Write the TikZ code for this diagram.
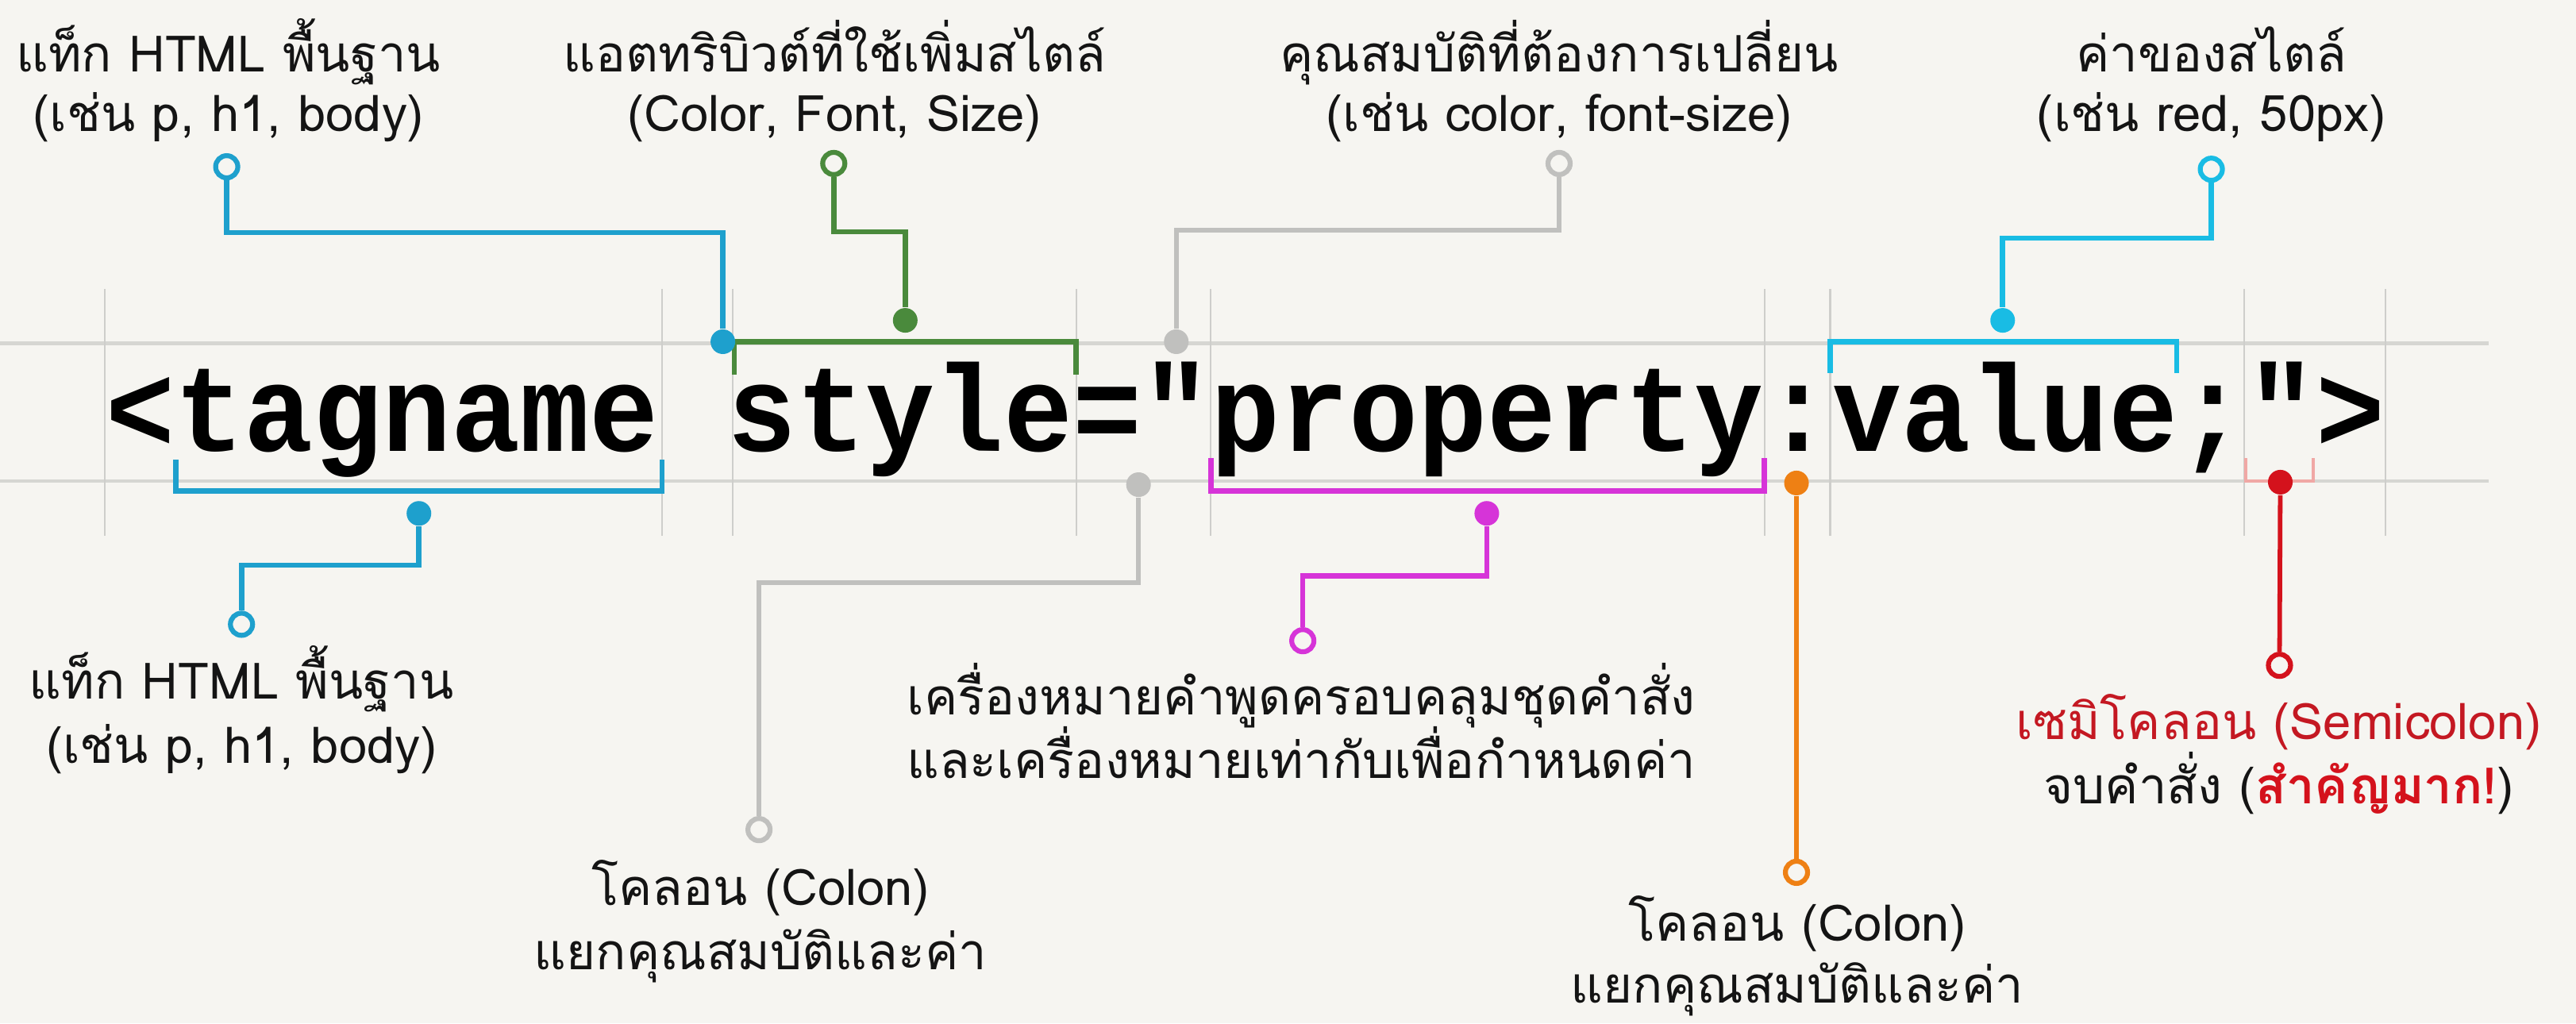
\documentclass[tikz,border=0pt]{standalone}
\usepackage{fontspec}
\newfontfamily\thai[Script=Thai]{Loma}
\font\codefont="Liberation Mono/B" at 35.04pt
\definecolor{bg}{RGB}{246,245,241}
\definecolor{cyanA}{RGB}{30,160,205}
\definecolor{cyanB}{RGB}{25,188,228}
\definecolor{greenA}{RGB}{74,138,60}
\definecolor{grayA}{RGB}{192,192,190}
\definecolor{magA}{RGB}{214,52,216}
\definecolor{orangeA}{RGB}{238,128,20}
\definecolor{redA}{RGB}{212,18,28}
\definecolor{redPale}{RGB}{240,168,165}
\definecolor{guideC}{RGB}{214,214,210}
\definecolor{vguideC}{RGB}{206,206,203}
\definecolor{labelRed}{RGB}{196,24,34}
\begin{document}
\begin{tikzpicture}[x=0.5pt,y=-0.5pt,
  lbl/.style={font=\thai\fontsize{15.3}{18}\selectfont, text=black!92, inner sep=0pt, anchor=base},
  hguide/.style={draw=guideC, line width=1pt},
  vguide/.style={draw=vguideC, line width=0.5pt},
  conn/.style={line width=1.6pt},
  brk/.style={line width=1.6pt},
  hole/.style={circle, draw=#1, fill=bg, line width=1.5pt, minimum size=6.75pt, inner sep=0pt},
  dot/.style={circle, fill=#1, minimum size=7.5pt, inner sep=0pt}]
\fill[bg] (0,0) rectangle (1568,623);
\useasboundingbox (0,0) rectangle (1568,623);
% guide lines
\draw[hguide] (0,209) -- (1515,209);
\draw[hguide] (0,293) -- (1515,293);
\foreach \gx in {64,403,446,655,737,1074,1114,1366,1452}
  \draw[vguide] (\gx,176) -- (\gx,326);
% code
\node[inner sep=0pt, anchor=base west] (code) at (64,274.5) {\scalebox{1}[1.07]{\codefont <tagname style="property:value;">}};
% brackets
\draw[brk, cyanA] (107,280) -- (107,299) -- (403,299) -- (403,280);
\draw[brk, greenA] (447,228) -- (447,208) -- (655,208) -- (655,228);
\draw[brk, magA] (737,279) -- (737,299) -- (1074,299) -- (1074,279);
\draw[brk, cyanB] (1114,227) -- (1114,208) -- (1325,208) -- (1325,227);
\draw[line width=1pt, redPale] (1367,279) -- (1367,293) -- (1408,293) -- (1408,279);
% dots
\node[dot=cyanA] (d1) at (440,208) {};
\node[dot=greenA] (d2) at (551,195) {};
\node[dot=grayA] (d3) at (716,208) {};
\node[dot=cyanB] (d4) at (1219,195) {};
\node[dot=cyanA] (d5) at (255,312.5) {};
\node[dot=grayA] (d6) at (693,295) {};
\node[dot=magA] (d7) at (905,312.5) {};
\node[dot=orangeA] (d8) at (1093.5,294) {};
\node[dot=redA] (d9) at (1388,293.5) {};
% open circles
\node[hole=cyanA] (c1) at (138,101.5) {};
\node[hole=greenA] (c2) at (507.5,99.5) {};
\node[hole=grayA] (c3) at (949,99.5) {};
\node[hole=cyanB] (c4) at (1346,103) {};
\node[hole=cyanA] (c5) at (147,380) {};
\node[hole=grayA] (c6) at (462,505) {};
\node[hole=magA] (c7) at (793,390) {};
\node[hole=orangeA] (c8) at (1093.5,531) {};
\node[hole=redA] (c9) at (1387.5,405) {};
% elbow levels
\coordinate (e1) at (0,141.5);
\coordinate (e2) at (0,141);
\coordinate (e3) at (0,140);
\coordinate (e4) at (0,145);
\coordinate (e5) at (0,344);
\coordinate (e6) at (0,354.5);
\coordinate (e7) at (0,350.5);
% connectors
\draw[conn, cyanA] (c1) -- (c1 |- e1) -| (d1);
\draw[conn, greenA] (c2) -- (c2 |- e2) -| (d2);
\draw[conn, grayA, line width=1.4pt] (c3) -- (c3 |- e3) -| (d3);
\draw[conn, cyanB] (c4) -- (c4 |- e4) -| (d4);
\draw[conn, cyanA] (d5) -- (d5 |- e5) -| (c5);
\draw[conn, grayA, line width=1.4pt] (d6) -- (d6 |- e6) -| (c6);
\draw[conn, magA] (d7) -- (d7 |- e7) -| (c7);
\draw[conn, orangeA, line width=1.3pt] (d8) -- (c8);
\draw[conn, redA, line width=1.4pt] (d9) -- (c9);
% labels top
\node[lbl] (l1a) at (139,43.5) {แท็ก HTML พื้นฐาน};
\node[lbl] (l1b) at (139,80) {(เช่น p, h1, body)};
\node[lbl] (l2a) at (508,43.5) {แอตทริบิวต์ที่ใช้เพิ่มสไตล์};
\node[lbl] (l2b) at (508,80) {(Color, Font, Size)};
\node[lbl] (l3a) at (949,43.5) {คุณสมบัติที่ต้องการเปลี่ยน};
\node[lbl] (l3b) at (949,80) {(เช่น color, font-size)};
\node[lbl] (l4a) at (1346,43.5) {ค่าของสไตล์};
\node[lbl] (l4b) at (1346,80) {(เช่น red, 50px)};
% labels bottom
\node[lbl] (l5a) at (147,425.5) {แท็ก HTML พื้นฐาน};
\node[lbl] (l5b) at (147,464.5) {(เช่น p, h1, body)};
\node[lbl] (l6a) at (792,435) {เครื่องหมายคำพูดครอบคลุมชุดคำสั่ง};
\node[lbl] (l6b) at (792,474) {และเครื่องหมายเท่ากับเพื่อกำหนดค่า};
\node[lbl] (l7a) at (463,551) {โคลอน (Colon)};
\node[lbl] (l7b) at (463,590) {แยกคุณสมบัติและค่า};
\node[lbl] (l8a) at (1094,573) {โคลอน (Colon)};
\node[lbl] (l8b) at (1094,610.5) {แยกคุณสมบัติและค่า};
\node[lbl, text=labelRed] (l9a) at (1387,450) {เซมิโคลอน (Semicolon)};
\node[lbl] (l9b) at (1387,489) {จบคำสั่ง ({\bfseries\color{redA}สำคัญมาก!})};
\end{tikzpicture}
\end{document}
